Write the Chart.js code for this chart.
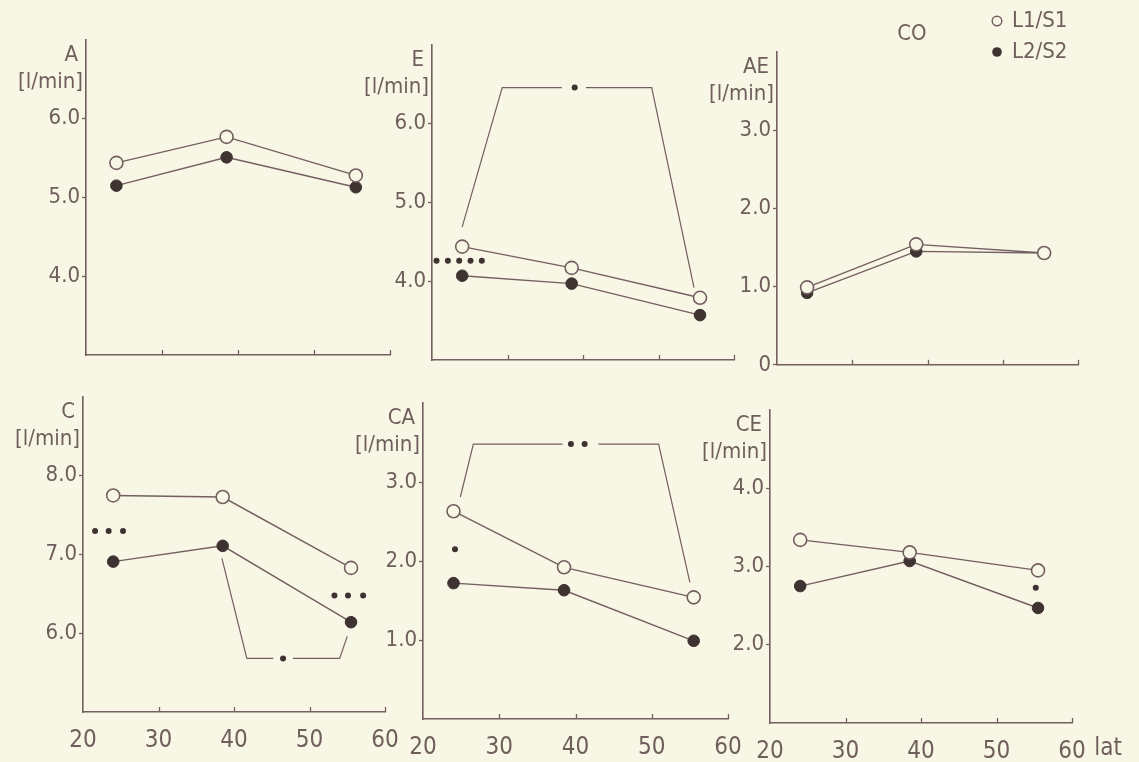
<!DOCTYPE html>
<html><head><meta charset="utf-8">
<script src="https://cdn.jsdelivr.net/npm/chart.js@4/dist/chart.umd.min.js"></script>
<style>
html,body{margin:0;padding:0;background:#f8f6e5;width:1139px;height:762px;overflow:hidden;position:relative;}
canvas{position:absolute;}
</style></head><body>
<script>
// ---------- DATA ----------
const ages = [24, 38.5, 55.5];
const xTicks = [20, 30, 40, 50, 60];
const seriesNames = ['L1/S1', 'L2/S2'];

const aL1 = [5.44, 5.77, 5.28];
const aL2 = [5.15, 5.51, 5.13];
const aTicks = [4, 5, 6];

const eL1 = [4.44, 4.17, 3.79];
const eL2 = [4.07, 3.97, 3.57];
const eTicks = [4, 5, 6];
const eStars = [[20.6, 4.26], [22.1, 4.26], [23.6, 4.26], [25.1, 4.26], [26.6, 4.26]];
const eBracketA = [[24, 4.69], [29.3, 6.46], [37.2, 6.46]];
const eBracketB = [[40.4, 6.46], [49.1, 6.46], [54.7, 3.92]];
const eBracketStars = [[38.9, 6.46]];

const aeL1 = [0.99, 1.54, 1.43];
const aeL2 = [0.92, 1.45, 1.43];
const aeTicks = [0, 1, 2, 3];

const cL1 = [7.75, 7.73, 6.83];
const cL2 = [6.91, 7.11, 6.14];
const cTicks = [6, 7, 8];
const cStarsLeft = [[21.6, 7.3], [23.4, 7.3], [25.3, 7.3]];
const cStarsRight = [[53.3, 6.48], [55.1, 6.48], [57.1, 6.48]];
const cBracketA = [[38.4, 6.95], [41.7, 5.68], [45.2, 5.68]];
const cBracketB = [[47.8, 5.68], [54.0, 5.68], [55.0, 5.96]];
const cBracketStars = [[46.5, 5.68]];

const caL1 = [2.63, 1.92, 1.54];
const caL2 = [1.72, 1.63, 0.99];
const caTicks = [1, 2, 3];
const caStars = [[24.2, 2.15]];
const caBracketA = [[24.9, 2.81], [26.6, 3.48], [38.3, 3.48]];
const caBracketB = [[43.0, 3.48], [50.9, 3.48], [55.0, 1.73]];
const caBracketStars = [[39.4, 3.48], [41.2, 3.48]];

const ceL1 = [3.34, 3.18, 2.95];
const ceL2 = [2.75, 3.07, 2.47];
const ceTicks = [2, 3, 4];
const ceStars = [[55.2, 2.73]];

// ---------- STYLE ----------
const BG = '#f8f6e5';
const LINE = '#735f61';
const TEXT = '#6e5f5c';
const DARK = '#3e3331';
const FONT = "'DejaVu Sans Condensed', 'Liberation Sans Narrow', 'Roboto Condensed', 'DejaVu Sans', sans-serif";
Chart.defaults.font.family = FONT;

const pts = (xs, ys) => xs.map((x, i) => ({x, y: ys[i]}));
const pairs = arr => arr.map(([x, y]) => ({x, y}));

const deco = {
  id: 'deco',
  beforeDatasetsDraw(chart, args, o) {
    const {ctx, chartArea: a, scales: {x}} = chart;
    ctx.save();
    ctx.strokeStyle = LINE; ctx.lineWidth = 1.3;
    for (const v of xTicks.slice(1)) {
      const px = Math.round(x.getPixelForValue(v)) + 0.5;
      ctx.beginPath(); ctx.moveTo(px, a.bottom); ctx.lineTo(px, a.bottom - 5); ctx.stroke();
    }
    ctx.restore();
  },
  afterDraw(chart, args, o) {
    const {ctx, chartArea: a} = chart;
    ctx.save();
    ctx.fillStyle = TEXT; ctx.textBaseline = 'middle'; ctx.textAlign = 'right';
    ctx.font = `22px ${FONT}`;
    ctx.fillText(o.title, a.left - 8, a.top + 15);
    ctx.font = `22px ${FONT}`;
    ctx.fillText(o.unit, a.left - 3, a.top + 42);
    if (o.co) {
      ctx.textAlign = 'center'; ctx.font = `22px ${FONT}`;
      ctx.fillText(o.co, a.left + 135, a.top - 18);
    }
    if (o.legend) {
      ctx.textAlign = 'left'; ctx.font = `22px ${FONT}`;
      const lx = a.right - 81;
      const rows = [a.top - 31, a.top];
      o.legend.forEach((name, i) => {
        ctx.beginPath(); ctx.arc(lx, rows[i], 4.8, 0, Math.PI * 2);
        if (i === 0) { ctx.fillStyle = BG; ctx.fill(); ctx.strokeStyle = LINE; ctx.lineWidth = 1.4; ctx.stroke(); }
        else { ctx.fillStyle = DARK; ctx.fill(); }
        ctx.fillStyle = TEXT;
        ctx.fillText(name, lx + 15, rows[i]);
      });
    }
    if (o.unitX) {
      ctx.textAlign = 'center'; ctx.font = `24px ${FONT}`;
      ctx.fillText(o.unitX, a.right + 36, a.bottom + 26);
    }
    ctx.restore();
  }
};

function makePanel(p) {
  const R = p.R || 30;
  const left = p.X0 - 80, top = p.top;
  const W = p.X1 + R - left, H = p.bottom - top;
  const cv = document.createElement('canvas');
  cv.width = W; cv.height = H;
  cv.style.left = left + 'px'; cv.style.top = top + 'px';
  cv.style.width = W + 'px'; cv.style.height = H + 'px';
  document.body.appendChild(cv);
  const datasets = [
    {label: seriesNames[0], data: pts(ages, p.l1), showLine: true, borderColor: LINE, borderWidth: 1.4,
     pointRadius: 6.5, pointBackgroundColor: BG, pointBorderColor: LINE, pointBorderWidth: 1.6, clip: false},
    {label: seriesNames[1], data: pts(ages, p.l2), showLine: true, borderColor: LINE, borderWidth: 1.4,
     pointRadius: 5.8, pointBackgroundColor: DARK, pointBorderColor: DARK, pointBorderWidth: 1, clip: false}
  ];
  (p.brackets || []).forEach(b => datasets.push({label: 'bracket', data: pairs(b), showLine: true,
     borderColor: LINE, borderWidth: 1.2, pointRadius: 0, clip: false}));
  (p.stars || []).forEach(s => datasets.push({label: 'sig', data: pairs(s), showLine: false,
     pointRadius: 3, pointBackgroundColor: DARK, pointBorderWidth: 0, clip: false}));
  new Chart(cv, {
    type: 'scatter',
    data: {datasets},
    plugins: [deco],
    options: {
      responsive: false, animation: false, devicePixelRatio: 1,
      layout: {padding: {left: 0, top: p.Y0 - top, right: R, bottom: 0}},
      plugins: {legend: {display: false}, tooltip: {enabled: false},
        deco: {title: p.title, unit: '[l/min]', legend: p.legend, co: p.co, unitX: p.unitX}},
      scales: {
        x: {type: 'linear', min: 20, max: 60,
          afterBuildTicks: s => { s.ticks = xTicks.map(v => ({value: v})); },
          afterFit: s => { s.height = p.bottom - p.Y1; },
          grid: {display: false},
          border: {display: true, color: LINE, width: 1.6},
          ticks: {display: !!p.showX, color: TEXT, font: {size: 24}, padding: 6, maxRotation: 0, autoSkip: false,
                  callback: v => String(v)}},
        y: {type: 'linear', min: p.min, max: p.max,
          afterBuildTicks: s => { s.ticks = p.ticks.map(v => ({value: v})); },
          afterFit: s => { s.width = 80; },
          grid: {drawOnChartArea: false, drawTicks: true, tickLength: 4, color: LINE, tickColor: LINE, tickWidth: 1.3},
          border: {display: true, color: LINE, width: 1.6},
          ticks: {color: TEXT, font: {size: 22}, padding: 2, autoSkip: false,
                  callback: v => v === 0 ? '0' : v.toFixed(1)}}
      }
    }
  });
}

makePanel({title: 'A', l1: aL1, l2: aL2, ticks: aTicks, min: 3, max: 7,
  X0: 86, X1: 390, Y0: 40, Y1: 355, top: 0, bottom: 380});
makePanel({title: 'E', l1: eL1, l2: eL2, ticks: eTicks, min: 3, max: 7,
  brackets: [eBracketA, eBracketB], stars: [eStars, eBracketStars],
  X0: 432, X1: 734, Y0: 45, Y1: 360, top: 0, bottom: 380});
makePanel({title: 'AE', l1: aeL1, l2: aeL2, ticks: aeTicks, min: 0, max: 4,
  legend: seriesNames, co: 'CO', R: 61,
  X0: 777, X1: 1078, Y0: 52, Y1: 368, top: 0, bottom: 380});
makePanel({title: 'C', l1: cL1, l2: cL2, ticks: cTicks, min: 5, max: 9, showX: true,
  brackets: [cBracketA, cBracketB], stars: [cStarsLeft, cStarsRight, cBracketStars],
  X0: 83, X1: 385, Y0: 397, Y1: 712, top: 380, bottom: 762});
makePanel({title: 'CA', l1: caL1, l2: caL2, ticks: caTicks, min: 0, max: 4, showX: true,
  brackets: [caBracketA, caBracketB], stars: [caStars, caBracketStars],
  X0: 423, X1: 728, Y0: 403, Y1: 719, top: 380, bottom: 762});
makePanel({title: 'CE', l1: ceL1, l2: ceL2, ticks: ceTicks, min: 1, max: 5, showX: true,
  stars: [ceStars], unitX: 'lat', R: 67,
  X0: 770, X1: 1072, Y0: 410, Y1: 723, top: 380, bottom: 762});
</script>
</body></html>
